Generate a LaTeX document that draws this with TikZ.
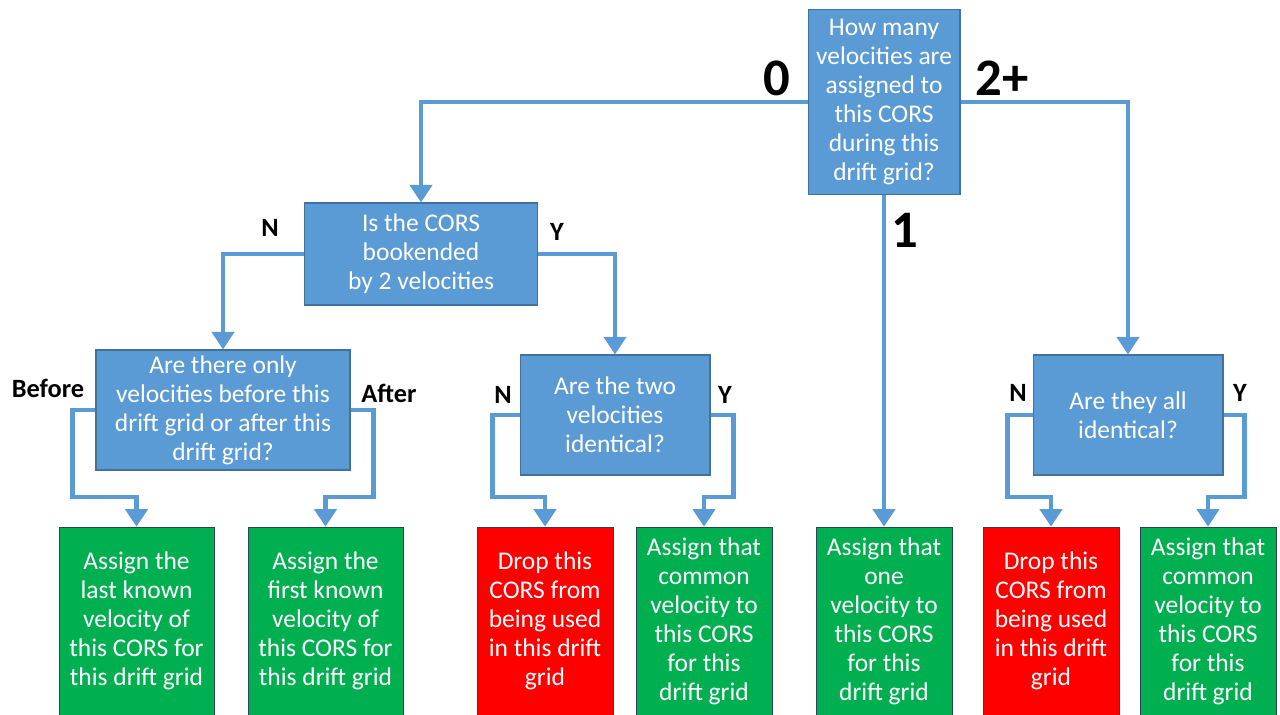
\documentclass[tikz,border=0pt]{standalone}
\usepackage{fontspec}
\setmainfont{Carlito}
\usetikzlibrary{arrows.meta}
\definecolor{qblue}{HTML}{5B9BD5}
\definecolor{qedge}{HTML}{41719C}
\definecolor{okgreen}{HTML}{00B050}
\definecolor{dropred}{HTML}{FF0000}
\begin{document}
\begin{tikzpicture}[x=0.02cm,y=-0.02cm,
        question/.style={fill=qblue,draw=qedge,line width=0.6pt,text=white,align=center,inner sep=0pt,
            font=\fontsize{14.5}{16.5}\selectfont},
        result/.style={draw=qedge!60!black,line width=0.4pt,text=white,align=center,inner sep=0pt,
            minimum height=3.76cm,font=\fontsize{14.5}{16.5}\selectfont},
        flow/.style={qblue,line width=2.8pt,-{Triangle[width=12.5pt,length=10pt]}},
        answer/.style={font=\bfseries\fontsize{15}{17}\selectfont},
        count/.style={font=\bfseries\fontsize{30}{32}\selectfont}]
    \useasboundingbox (0,0) rectangle (1280,715);
    % questions
    \node[question,minimum width=3.04cm,minimum height=3.7cm] (q0) at (884,102)
        {How many\\velocities are\\assigned to\\this CORS\\during this\\drift grid?};
    \node[question,minimum width=4.66cm,minimum height=2.04cm] (q1) at (421,254)
        {Is the CORS\\bookended\\by 2 velocities};
    \node[question,minimum width=5.08cm,minimum height=2.4cm] (q2) at (223,410)
        {Are there only\\velocities before this\\drift grid or after this\\drift grid?};
    \node[question,minimum width=3.8cm,minimum height=2.4cm] (q3) at (615,415)
        {Are the two\\velocities\\identical?};
    \node[question,minimum width=3.8cm,minimum height=2.4cm] (q4) at (1128,415)
        {Are they all\\identical?};
    % results
    \node[result,fill=okgreen,minimum width=3.1cm] (last) at (136.5,621)
        {Assign the\\last known\\velocity of\\this CORS for\\this drift grid};
    \node[result,fill=okgreen,minimum width=3.1cm] (first) at (325.5,621)
        {Assign the\\first known\\velocity of\\this CORS for\\this drift grid};
    \node[result,fill=dropred,minimum width=2.72cm] (dropa) at (545,621)
        {Drop this\\CORS from\\being used\\in this drift\\grid};
    \node[result,fill=okgreen,minimum width=2.72cm] (commona) at (704,621)
        {Assign that\\common\\velocity to\\this CORS\\for this\\drift grid};
    \node[result,fill=okgreen,minimum width=2.72cm] (one) at (884,621)
        {Assign that\\one\\velocity to\\this CORS\\for this\\drift grid};
    \node[result,fill=dropred,minimum width=2.72cm] (dropb) at (1051,621)
        {Drop this\\CORS from\\being used\\in this drift\\grid};
    \node[result,fill=okgreen,minimum width=2.72cm] (commonb) at (1208,621)
        {Assign that\\common\\velocity to\\this CORS\\for this\\drift grid};
    % connectors
    \draw[flow] (q0.west) -| (q1.north);
    \draw[flow] (q0.east) -| (q4.north);
    \draw[flow] (q0.south) -- (one.north);
    \draw[flow] (q1.west) -| (q2.north);
    \draw[flow] (q1.east) -| (q3.north);
    \draw[flow] (q2.west) -| ++(-23,87) -| (last.north);
    \draw[flow] (q2.east) -| ++(23,87) -| (first.north);
    \draw[flow] (q3.west) -| ++(-27,82) -| (dropa.north);
    \draw[flow] (q3.east) -| ++(23,82) -| (commona.north);
    \draw[flow] (q4.west) -| ++(-25,82) -| (dropb.north);
    \draw[flow] (q4.east) -| ++(21,82) -| (commonb.north);
    % labels
    \node[count] (zero) at (777,78) {0};
    \node[count] (many) at (1002,78) {2+};
    \node[count] (single) at (905,230) {1};
    \node[answer] (n1) at (270,228) {N};
    \node[answer] (y1) at (557,232) {Y};
    \node[answer] (before) at (48,388) {Before};
    \node[answer] (after) at (389,393) {After};
    \node[answer] (n3) at (503,395) {N};
    \node[answer] (y3) at (725,395) {Y};
    \node[answer] (n4) at (1018,393) {N};
    \node[answer] (y4) at (1240,393) {Y};
\end{tikzpicture}
\end{document}
